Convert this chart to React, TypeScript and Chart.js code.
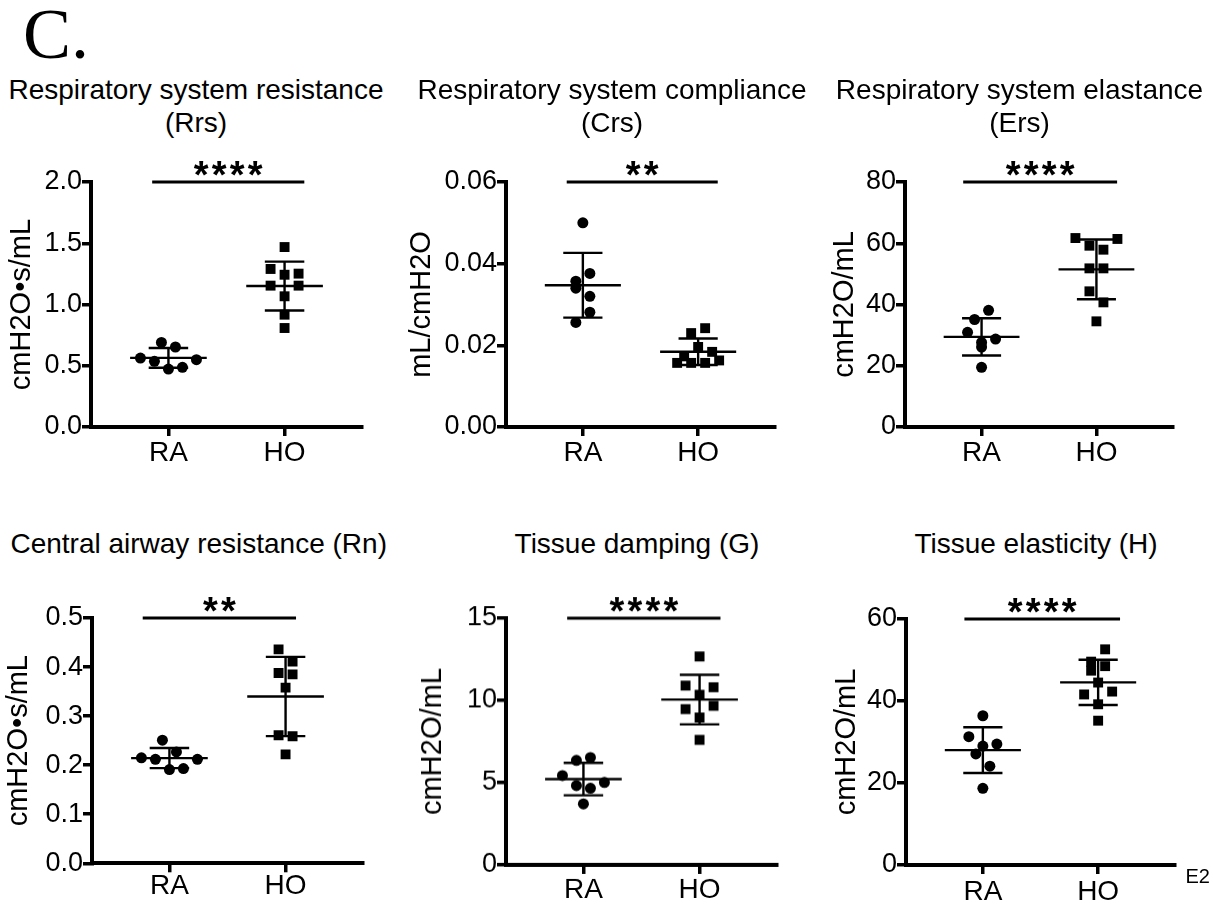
import React, { useEffect, useRef } from 'react';
import { Chart, registerables } from 'chart.js';

Chart.register(...registerables);

const FONT = '"Liberation Sans", Arial, Helvetica, sans-serif';

// ---------------- data ----------------
const groups = ['RA', 'HO'];

// Respiratory system resistance (Rrs)
const rrsRA = [0.563, 0.536, 0.69, 0.473, 0.653, 0.487, 0.55];
const rrsHO = [1.29, 1.154, 0.808, 1.469, 1.243, 1.067, 0.917, 1.154, 1.252];
// Respiratory system compliance (Crs)
const crsRA = [0.0357, 0.034, 0.0256, 0.05, 0.0376, 0.032, 0.0281];
const crsHO = [0.0173, 0.0157, 0.023, 0.0157, 0.0242, 0.0196, 0.0157, 0.0163, 0.0184];
// Respiratory system elastance (Ers)
const ersRA = [30.9, 35.1, 27.6, 19.5, 38.1, 26.1, 28.7];
const ersHO = [61.7, 59.2, 51.8, 44.3, 34.5, 57.9, 51.8, 40.7, 61.4];
// Central airway resistance (Rn)
const rnRA = [0.215, 0.212, 0.251, 0.191, 0.227, 0.193, 0.212];
const rnHO = [0.436, 0.388, 0.261, 0.358, 0.222, 0.411, 0.259, 0.385];
// Tissue damping (G)
const gRA = [5.43, 6.35, 4.82, 3.71, 6.53, 4.66, 5.01];
const gHO = [10.9, 9.47, 12.67, 10.34, 8.96, 7.6, 10.8, 9.67];
// Tissue elasticity (H)
const hRA = [31.3, 27.1, 36.4, 29.0, 18.7, 24.1, 29.5];
const hHO = [41.6, 49.6, 44.5, 52.6, 39.2, 35.2, 47.4, 48.5, 42.3];

// y tick labels
const rrsTicks = ['0.0', '0.5', '1.0', '1.5', '2.0'];
const crsTicks = ['0.00', '0.02', '0.04', '0.06'];
const ersTicks = ['0', '20', '40', '60', '80'];
const rnTicks = ['0.0', '0.1', '0.2', '0.3', '0.4', '0.5'];
const gTicks = ['0', '5', '10', '15'];
const hTicks = ['0', '20', '40', '60'];

const panelTitles = [
  ['Respiratory system resistance', '(Rrs)'],
  ['Respiratory system compliance', '(Crs)'],
  ['Respiratory system elastance', '(Ers)'],
  ['Central airway resistance (Rn)'],
  ['Tissue damping (G)'],
  ['Tissue elasticity (H)'],
];
const yTitles = ['cmH2O•s/mL', 'mL/cmH2O', 'cmH2O/mL', 'cmH2O•s/mL', 'cmH2O/mL', 'cmH2O/mL'];
const significance = ['****', '**', '****', '**', '****', '****'];

const seriesSets = [
  [rrsRA, rrsHO],
  [crsRA, crsHO],
  [ersRA, ersHO],
  [rnRA, rnHO],
  [gRA, gHO],
  [hRA, hHO],
];
const tickSets = [rrsTicks, crsTicks, ersTicks, rnTicks, gTicks, hTicks];

// ---------------- layout (page pixels) ----------------
const LAYOUT = [
  { CL: 91, CR: 362, T: 182, B: 427, yT: 22, TC: 196, bottom: 480, titleTop: 73.3, labelPad: 3, sig: [0.86, 2.17] },
  { CL: 506, CR: 775, T: 182, B: 427, yT: 421.7, TC: 612, bottom: 480, titleTop: 73.3, labelPad: 3, sig: [0.86, 2.17] },
  { CL: 905, CR: 1173, T: 182, B: 427, yT: 845, TC: 1019.5, bottom: 480, titleTop: 73.3, labelPad: 3, sig: [0.84, 2.18] },
  { CL: 92, CR: 363, T: 618, B: 863.3, yT: 19.3, TC: 198.7, bottom: 905, titleTop: 527.1, labelPad: 0, sig: [0.77, 2.09] },
  { CL: 506, CR: 777, T: 618.3, B: 865, yT: 433, TC: 637, bottom: 905, titleTop: 527.1, labelPad: 2, sig: [0.86, 2.18] },
  { CL: 906, CR: 1175, T: 619, B: 865, yT: 846.7, TC: 1036, bottom: 905, titleTop: 527.1, labelPad: 4, sig: [0.84, 2.19] },
];

const XMIN = 1 / 3;
const XMAX = 8 / 3;
const ROW_PX = 13;
const SPACING_PX = 14;
const AXIS_W = 4;

function meanSd(v: number[]) {
  const m = v.reduce((a, b) => a + b, 0) / v.length;
  const sd = Math.sqrt(v.reduce((a, b) => a + (b - m) * (b - m), 0) / (v.length - 1));
  return { m, sd };
}

// GraphPad-like scatter: values close in height share a row and are spread symmetrically
function swarm(values: number[], center: number, pxPerVal: number, pxPerCat: number) {
  const order = values.map((_, i) => i).sort((a, b) => values[b] - values[a]);
  const rows: number[][] = [];
  let top = Infinity;
  for (const i of order) {
    if (rows.length === 0 || (top - values[i]) * pxPerVal > ROW_PX) {
      rows.push([i]);
      top = values[i];
    } else rows[rows.length - 1].push(i);
  }
  const xs: number[] = [];
  rows.forEach((row) => {
    row.sort((a, b) => a - b);
    row.forEach((i, k) => {
      xs[i] = center + ((k - (row.length - 1) / 2) * SPACING_PX) / pxPerCat;
    });
  });
  return values.map((y, i) => ({ x: xs[i], y }));
}

function seg(x1: number, y1: number, x2: number, y2: number, w: number) {
  return {
    type: 'line',
    data: [
      { x: x1, y: y1 },
      { x: x2, y: y2 },
    ],
    borderColor: '#000',
    borderWidth: w,
    pointRadius: 0,
    fill: false,
    tension: 0,
    borderCapStyle: 'butt',
    clip: false,
  };
}

const axisGrid = {
  display: true,
  drawOnChartArea: false,
  drawTicks: true,
  tickLength: 9,
  tickWidth: 3.5,
  lineWidth: 3.5,
  tickColor: '#000',
  color: '#000',
};

function Panel({ idx }: { idx: number }) {
  const ref = useRef<HTMLCanvasElement>(null);
  const L = LAYOUT[idx];
  const canvasLeft = Math.round(L.yT - 20);
  const canvasTop = L.T - 45;
  const W = L.CR - canvasLeft + 20;
  const H = L.bottom - canvasTop;

  useEffect(() => {
    const tickLabels = tickSets[idx];
    const tickVals = tickLabels.map(Number);
    const yMin = tickVals[0];
    const yMax = tickVals[tickVals.length - 1];
    const pxPerCat = (L.CR - L.CL) / (XMAX - XMIN);
    const pxPerVal = (L.B - L.T) / (yMax - yMin);

    const datasets: any[] = [];
    seriesSets[idx].forEach((vals, g) => {
      const c = g + 1;
      const { m, sd } = meanSd(vals);
      datasets.push(seg(c - 0.33, m, c + 0.33, m, 2.4));
      datasets.push(seg(c, m - sd, c, m + sd, 2.4));
      datasets.push(seg(c - 0.17, m + sd, c + 0.17, m + sd, 2.4));
      datasets.push(seg(c - 0.17, m - sd, c + 0.17, m - sd, 2.4));
    });
    seriesSets[idx].forEach((vals, g) => {
      datasets.push({
        type: 'scatter',
        label: groups[g],
        data: swarm(vals, g + 1, pxPerVal, pxPerCat),
        pointStyle: g === 0 ? 'circle' : 'rect',
        pointRadius: g === 0 ? 5.5 : 7,
        backgroundColor: '#000',
        borderColor: '#000',
        borderWidth: 0,
        pointBorderWidth: 0,
        showLine: false,
      });
    });
    datasets.push(seg(L.sig[0], yMax, L.sig[1], yMax, 2.8));

    const starPlugin = {
      id: 'sigStars',
      afterDatasetsDraw(chart: any) {
        const { ctx, scales } = chart;
        const xc = scales.x.getPixelForValue((L.sig[0] + L.sig[1]) / 2);
        const yb = scales.y.getPixelForValue(yMax);
        const label = significance[idx];
        ctx.save();
        ctx.font = `bold 38px ${FONT}`;
        ctx.fillStyle = '#000';
        ctx.textAlign = 'center';
        ctx.textBaseline = 'alphabetic';
        const m = ctx.measureText('*');
        const yc = yb - 13.5;
        const base = yc + (m.actualBoundingBoxAscent - m.actualBoundingBoxDescent) / 2;
        const n = label.length;
        for (let k = 0; k < n; k++) {
          ctx.fillText('*', xc + (k - (n - 1) / 2) * 18, base);
        }
        ctx.restore();
      },
    };

    const chart = new Chart(ref.current as HTMLCanvasElement, {
      type: 'scatter',
      data: { datasets },
      options: {
        responsive: false,
        animation: false,
        devicePixelRatio: 1,
        events: [],
        layout: { padding: { top: 45, right: 20, left: 0, bottom: 0 } },
        plugins: { legend: { display: false }, tooltip: { enabled: false }, title: { display: false } },
        scales: {
          x: {
            type: 'linear',
            position: 'bottom',
            min: XMIN,
            max: XMAX,
            afterBuildTicks: (s: any) => {
              s.ticks = groups.map((_, i) => ({ value: i + 1 }));
            },
            afterFit: (s: any) => {
              s.height = L.bottom - L.B;
            },
            ticks: {
              callback: (v: any) => groups[Math.round(Number(v)) - 1] ?? '',
              font: { family: FONT, size: 28, lineHeight: 1 },
              color: '#000',
              padding: L.labelPad,
              maxRotation: 0,
              autoSkip: false,
            },
            grid: axisGrid,
            border: { display: true, color: '#000', width: AXIS_W },
          },
          y: {
            type: 'linear',
            position: 'left',
            min: yMin,
            max: yMax,
            afterBuildTicks: (s: any) => {
              s.ticks = tickVals.map((v) => ({ value: v }));
            },
            afterFit: (s: any) => {
              s.width = L.CL - canvasLeft;
            },
            ticks: {
              callback: (_v: any, i: number) => tickLabels[i],
              font: { family: FONT, size: 27, lineHeight: 1 },
              color: '#000',
              padding: 0,
              autoSkip: false,
            },
            grid: axisGrid,
            border: { display: true, color: '#000', width: AXIS_W },
            title: {
              display: true,
              text: yTitles[idx],
              font: { family: FONT, size: 29, lineHeight: 1 },
              color: '#000',
              padding: { top: L.yT - 14.5 - canvasLeft, bottom: 0 },
            },
          },
        },
      } as any,
      plugins: [starPlugin],
    });
    return () => chart.destroy();
  }, [idx]);

  return (
    <>
      <div
        style={{
          position: 'absolute',
          left: L.TC - 260,
          top: L.titleTop,
          width: 520,
          textAlign: 'center',
          fontFamily: FONT,
          fontSize: 28,
          lineHeight: '33px',
          color: '#000',
          whiteSpace: 'nowrap',
        }}
      >
        {panelTitles[idx].map((t, k) => (
          <div key={k}>{t}</div>
        ))}
      </div>
      <canvas
        ref={ref}
        width={W}
        height={H}
        style={{ position: 'absolute', left: canvasLeft, top: canvasTop, width: W, height: H }}
      />
    </>
  );
}

export default function App() {
  return (
    <div
      style={{
        position: 'absolute',
        left: 0,
        top: 0,
        width: 1213,
        height: 905,
        overflow: 'hidden',
        background: '#fff',
      }}
    >
      <div
        style={{
          position: 'absolute',
          left: 23,
          top: -2.3,
          fontFamily: '"Liberation Serif", "Times New Roman", serif',
          fontSize: 72,
          lineHeight: '72px',
          color: '#000',
        }}
      >
        C.
      </div>
      {LAYOUT.map((_, i) => (
        <Panel key={i} idx={i} />
      ))}
      <div
        style={{
          position: 'absolute',
          left: 1185.5,
          top: 866,
          fontFamily: FONT,
          fontSize: 20,
          lineHeight: '20px',
          color: '#000',
          whiteSpace: 'nowrap',
        }}
      >
        E2
      </div>
    </div>
  );
}
